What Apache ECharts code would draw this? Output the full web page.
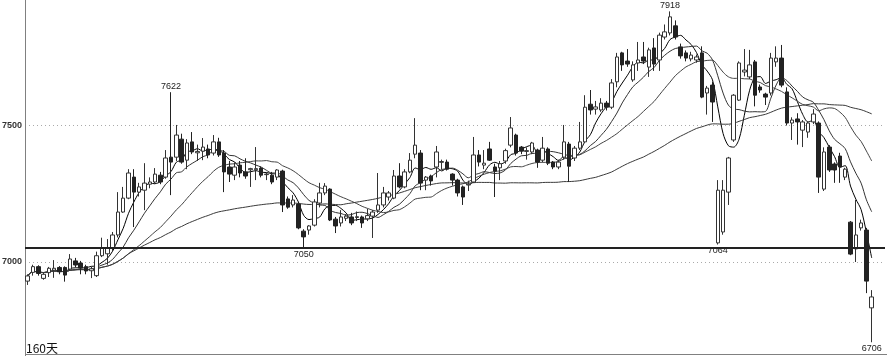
<!DOCTYPE html>
<html><head><meta charset="utf-8">
<script src="https://cdn.jsdelivr.net/npm/echarts@6/dist/echarts.min.js"></script>
<style>html,body{margin:0;padding:0;background:#fff}#c{width:887px;height:356px}</style>
</head><body><div id="c"></div>
<script>
// ---- data (160 daily candles) ----
const opens = [6930,6962,6983,6940,6961,6970,6980,6980,6974,7004,6996,6983,6968,6950,7023,7030,7051,7099,7183,7234,
7311,7256,7263,7285,7293,7318,7311,7384,7384,7450,7373,7440,7400,7406,7414,7399,7440,7399,7348,7318,
7355,7330,7338,7338,7344,7320,7318,7311,7333,7231,7209,7212,7113,7117,7135,7216,7253,7267,7157,7143,
7160,7165,7163,7165,7158,7168,7190,7209,7238,7234,7315,7275,7330,7395,7399,7300,7315,7348,7365,7366,
7322,7300,7275,7282,7293,7392,7355,7414,7348,7345,7370,7428,7465,7421,7405,7403,7410,7373,7414,7366,
7348,7384,7432,7381,7417,7440,7578,7560,7557,7582,7567,7660,7766,7736,7667,7729,7751,7714,7784,7740,
7824,7839,7865,7788,7766,7744,7740,7766,7619,7648,7070,7110,7256,7447,7593,7696,7678,7733,7641,7615,
7619,7733,7747,7623,7509,7524,7483,7476,7513,7509,7267,7421,7359,7388,7311,7146,7048,7125,7117,6832];
const closes = [6949,6983,6958,6955,6977,6977,6964,6952,7011,6989,6978,6967,6975,7023,7051,7050,7099,7183,7234,7326,
7256,7275,7289,7293,7322,7293,7381,7366,7465,7366,7436,7403,7405,7421,7392,7440,7392,7330,7322,7348,
7326,7315,7342,7342,7318,7322,7293,7337,7209,7201,7227,7125,7092,7132,7220,7253,7278,7154,7132,7165,
7168,7143,7166,7143,7170,7183,7209,7253,7253,7315,7275,7330,7373,7428,7289,7311,7297,7403,7368,7340,
7300,7253,7238,7285,7392,7366,7362,7373,7333,7360,7408,7491,7399,7406,7408,7436,7366,7417,7362,7348,
7366,7440,7351,7417,7440,7567,7557,7568,7582,7567,7656,7751,7722,7725,7722,7740,7736,7777,7725,7831,
7843,7898,7824,7755,7747,7758,7751,7604,7637,7586,7263,7263,7381,7611,7729,7703,7722,7611,7630,7604,
7747,7747,7648,7509,7520,7513,7513,7509,7542,7311,7403,7337,7337,7348,7340,7029,7099,7143,6930,6872];
const lows = [6916,6950,6950,6935,6945,6942,6955,6928,6968,6980,6955,6955,6941,6945,7018,6990,7040,7090,7180,7230,
7128,7240,7190,7270,7285,7285,7305,7245,7370,7360,7340,7395,7370,7373,7380,7390,7385,7256,7293,7300,
7310,7305,7275,7300,7310,7300,7285,7300,7183,7195,7200,7120,7050,7100,7130,7200,7245,7150,7106,7130,
7150,7135,7150,7125,7150,7088,7180,7200,7225,7230,7270,7270,7325,7380,7263,7263,7280,7310,7340,7335,
7280,7240,7209,7260,7290,7350,7340,7370,7238,7300,7360,7420,7390,7395,7375,7395,7345,7365,7355,7340,
7340,7375,7293,7370,7410,7435,7540,7540,7550,7555,7560,7640,7700,7715,7660,7700,7725,7678,7700,7700,
7815,7830,7815,7745,7735,7735,7730,7600,7540,7513,7064,7100,7209,7440,7590,7680,7670,7570,7620,7575,
7610,7715,7640,7500,7447,7430,7421,7455,7505,7253,7260,7330,7290,7290,7300,7025,7000,7115,6886,6706];
const highs = [6955,6990,6988,6960,6982,7007,6985,6984,7029,7015,7004,6990,6982,7038,7089,7084,7110,7256,7275,7340,
7340,7290,7362,7310,7344,7330,7410,7622,7502,7470,7450,7476,7430,7454,7430,7465,7455,7410,7370,7365,
7370,7380,7345,7421,7350,7330,7330,7340,7338,7240,7245,7215,7120,7135,7230,7290,7289,7270,7165,7190,
7175,7180,7185,7170,7195,7190,7326,7275,7260,7337,7362,7340,7399,7527,7410,7315,7320,7425,7375,7375,
7325,7305,7280,7298,7458,7410,7410,7440,7360,7370,7415,7531,7470,7425,7420,7440,7415,7458,7420,7370,
7375,7502,7440,7425,7513,7611,7630,7590,7600,7590,7670,7766,7770,7780,7735,7806,7806,7785,7820,7840,
7870,7918,7885,7800,7775,7770,7760,7790,7645,7660,7300,7300,7385,7615,7735,7780,7777,7740,7650,7620,
7766,7790,7795,7640,7530,7545,7520,7515,7560,7515,7420,7428,7365,7400,7345,7150,7227,7155,7125,6897];
const maPeriods = [5, 10, 20, 60];
const refLevels = [7052];          // thick horizontal price line
const highMarkDays = [27, 121];    // candles whose high is annotated
const lowMarkDays = [52, 130, 159];// candles whose low is annotated
const periodLabel = '160天';

// ---- build chart ----
const nDays = opens.length;
const cats = [];
for (let i = 0; i < nDays + 2; i++) cats.push(i < nDays ? 'D' + (i + 1) : '');
const candles = opens.map((o, i) => [o, closes[i], lows[i], highs[i]]);
function movingAvg(n) {
  return closes.map((_, i) => {
    const s = closes.slice(Math.max(0, i - n + 1), i + 1);
    return +(s.reduce((a, b) => a + b, 0) / s.length).toFixed(1);
  });
}
const maColors = ['#000', '#333', '#444', '#3a3a3a'];
const maSeries = maPeriods.map((p, k) => ({
  name: 'MA' + p, type: 'line', data: movingAvg(p), showSymbol: false, smooth: 0.3,
  lineStyle: { width: 1, color: maColors[k] }, itemStyle: { color: maColors[k] },
  silent: true, z: 3
}));

const markData = highMarkDays.map(i => ({ coord: [i, highs[i]], value: highs[i], label: { position: 'top' } }))
  .concat(lowMarkDays.map(i => ({ coord: [i, lows[i]], value: lows[i], label: { position: 'bottom' } })));

const chart = echarts.init(document.getElementById('c'), null, { renderer: 'canvas' });
chart.setOption({
  animation: false,
  backgroundColor: '#fff',
  grid: { left: 25, right: 2, top: -11, bottom: -42.5, containLabel: false, outerBoundsMode: 'none' },
  xAxis: {
    type: 'category', data: cats, boundaryGap: true,
    axisLine: { show: false }, axisTick: { show: false }, axisLabel: { show: false }, splitLine: { show: false }
  },
  yAxis: {
    type: 'value', min: 6500, max: 8000, interval: 500, scale: false,
    axisLine: { show: true, lineStyle: { color: '#808080', width: 1 } },
    axisTick: { show: false },
    axisLabel: { color: '#333', fontSize: 9, fontWeight: 'bold', fontFamily: 'Liberation Sans, Arial, sans-serif', margin: 3, formatter: v => String(v) },
    splitLine: { show: true, lineStyle: { color: '#aaa', type: [1, 3], width: 1 } }
  },
  series: [{
    name: 'K', type: 'candlestick', data: candles, barWidth: 4,
    itemStyle: { color: '#fff', color0: '#222', borderColor: '#333', borderColor0: '#222', borderWidth: 1 },
    z: 4,
    markLine: {
      silent: true, symbol: 'none', label: { show: false },
      lineStyle: { color: '#222', width: 2, type: 'solid' },
      data: refLevels.map(v => ({ yAxis: v }))
    },
    markPoint: {
      symbol: 'rect', symbolSize: 1, itemStyle: { color: 'rgba(0,0,0,0)' }, silent: true,
      label: { show: true, color: '#222', fontSize: 9, distance: 1, fontFamily: 'Liberation Sans, Arial, sans-serif', formatter: p => String(p.value) },
      data: markData
    }
  }].concat(maSeries),
  graphic: [
    { type: 'line', shape: { x1: 25, y1: 354.5, x2: 887, y2: 354.5 }, style: { stroke: '#808080', lineWidth: 1 }, silent: true },
    { type: 'text', left: 26, top: 342, style: { text: periodLabel, fill: '#111', font: '12px "Noto Sans CJK SC", sans-serif' }, silent: true }
  ]
});
</script></body></html>
